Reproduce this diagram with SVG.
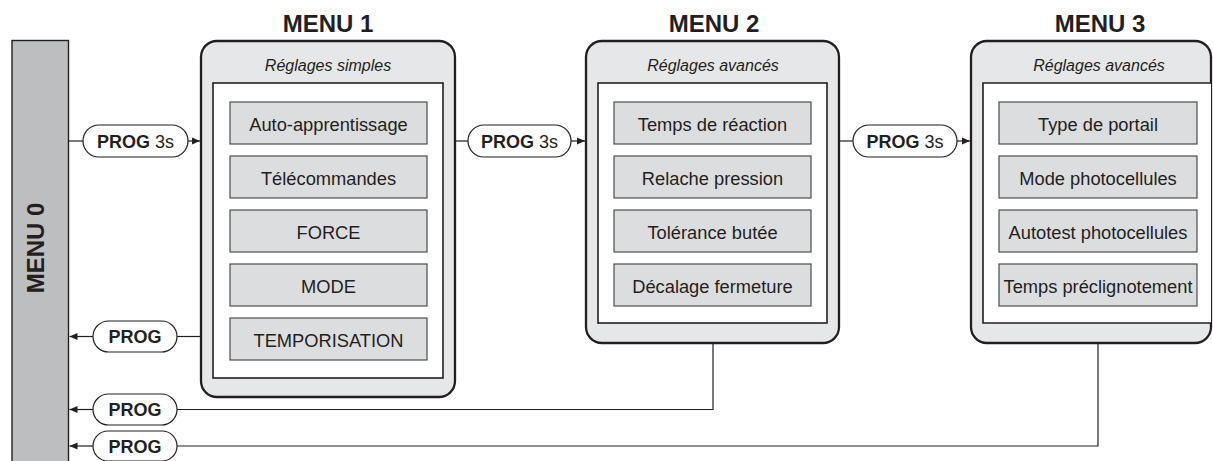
<svg xmlns="http://www.w3.org/2000/svg" width="1213" height="461" viewBox="0 0 1213 461">
<defs>
<style>
text{font-family:"Liberation Sans",Arial,Helvetica,sans-serif;fill:#231f20}
.title{font-size:24px;font-weight:bold;text-anchor:middle}
.sub{font-size:16px;font-style:italic;text-anchor:middle}
.item{font-size:18.3px;text-anchor:middle}
.panel{fill:#e6e7e8;stroke:#231f20;stroke-width:2.3}
.inner{fill:#ffffff;stroke:#231f20;stroke-width:1.6}
.box{fill:#dcdddf;stroke:#4d4d4f;stroke-width:1.2}
.pill{fill:#ffffff;stroke:#231f20;stroke-width:1.2}
.pt{font-size:18px;text-anchor:middle}
.b{font-weight:bold}
.ln{fill:none;stroke:#231f20;stroke-width:1.2}
</style>
<marker id="ah" markerWidth="9" markerHeight="9" refX="8" refY="4.5" orient="auto" markerUnits="userSpaceOnUse">
<path d="M0,1 L8,4.5 L0,8 Z" fill="#231f20"/>
</marker>
</defs>
<rect width="1213" height="461" fill="#ffffff"/>

<g id="menu0">
<rect x="12" y="40.5" width="56.5" height="430" fill="#bcbec0" stroke="#231f20" stroke-width="1.4"/>
<text class="title" transform="translate(43.5,248) rotate(-90)">MENU 0</text>
</g>

<g id="menu1">
<text class="title" x="328" y="32">MENU 1</text>
<rect class="panel" x="201" y="41" width="254" height="356" rx="16"/>
<text class="sub" x="328" y="71">Réglages simples</text>
<rect class="inner" x="213" y="83" width="230" height="295"/>
<rect class="box" x="230" y="102" width="197" height="42"/>
<text class="item" x="328.5" y="130.5">Auto-apprentissage</text>
<rect class="box" x="230" y="156" width="197" height="42"/>
<text class="item" x="328.5" y="184.5">Télécommandes</text>
<rect class="box" x="230" y="210" width="197" height="42"/>
<text class="item" x="328.5" y="238.5">FORCE</text>
<rect class="box" x="230" y="264" width="197" height="42"/>
<text class="item" x="328.5" y="292.5">MODE</text>
<rect class="box" x="230" y="318" width="197" height="42"/>
<text class="item" x="328.5" y="346.5">TEMPORISATION</text>
</g>

<g id="menu2">
<text class="title" x="714" y="32">MENU 2</text>
<rect class="panel" x="586" y="41" width="253" height="302" rx="16"/>
<text class="sub" x="713" y="71">Réglages avancés</text>
<rect class="inner" x="598" y="83" width="229" height="240"/>
<rect class="box" x="614" y="102" width="197" height="42"/>
<text class="item" x="712.5" y="130.5">Temps de réaction</text>
<rect class="box" x="614" y="156" width="197" height="42"/>
<text class="item" x="712.5" y="184.5">Relache pression</text>
<rect class="box" x="614" y="210" width="197" height="42"/>
<text class="item" x="712.5" y="238.5">Tolérance butée</text>
<rect class="box" x="614" y="264" width="197" height="42"/>
<text class="item" x="712.5" y="292.5">Décalage fermeture</text>
</g>

<g id="menu3">
<text class="title" x="1100" y="32">MENU 3</text>
<rect class="panel" x="971" y="41" width="240" height="302" rx="16"/>
<text class="sub" x="1099" y="71">Réglages avancés</text>
<path d="M1211,83 H983 V323 H1211" class="inner"/>
<rect class="box" x="999" y="102" width="198" height="42"/>
<text class="item" x="1098" y="130.5">Type de portail</text>
<rect class="box" x="999" y="156" width="198" height="42"/>
<text class="item" x="1098" y="184.5">Mode photocellules</text>
<rect class="box" x="999" y="210" width="198" height="42"/>
<text class="item" x="1098" y="238.5">Autotest photocellules</text>
<rect class="box" x="999" y="264" width="198" height="42"/>
<text class="item" x="1098" y="292.5">Temps préclignotement</text>
</g>

<g id="connectors">
<path class="ln" d="M68.5,141 H83"/>
<path class="ln" d="M188,141 H200" marker-end="url(#ah)"/>
<path class="ln" d="M455,141 H468"/>
<path class="ln" d="M571,141 H585" marker-end="url(#ah)"/>
<path class="ln" d="M839,141 H853"/>
<path class="ln" d="M957,141 H970" marker-end="url(#ah)"/>
<path class="ln" d="M201,336.5 H177"/>
<path class="ln" d="M93,336.5 H69.5" marker-end="url(#ah)"/>
<path class="ln" d="M713,343 V409.5 H177"/>
<path class="ln" d="M93,409.5 H69.5" marker-end="url(#ah)"/>
<path class="ln" d="M1098,343 V446 H177"/>
<path class="ln" d="M93,446 H69.5" marker-end="url(#ah)"/>
</g>

<g id="pill1">
<rect class="pill" x="83" y="125" width="105" height="32" rx="16"/>
<text class="pt" x="135.5" y="147.5"><tspan class="b">PROG</tspan> 3s</text>
</g>
<g id="pill2">
<rect class="pill" x="468" y="125" width="103" height="32" rx="16"/>
<text class="pt" x="519.5" y="147.5"><tspan class="b">PROG</tspan> 3s</text>
</g>
<g id="pill3">
<rect class="pill" x="853" y="125" width="104" height="32" rx="16"/>
<text class="pt" x="905" y="147.5"><tspan class="b">PROG</tspan> 3s</text>
</g>
<g id="pill4">
<rect class="pill" x="93" y="321" width="84" height="31" rx="15.5"/>
<text class="pt b" x="135" y="343">PROG</text>
</g>
<g id="pill5">
<rect class="pill" x="93" y="394" width="84" height="31" rx="15.5"/>
<text class="pt b" x="135" y="416">PROG</text>
</g>
<g id="pill6">
<rect class="pill" x="93" y="431" width="84" height="30" rx="15"/>
<text class="pt b" x="135" y="452.5">PROG</text>
</g>
</svg>
